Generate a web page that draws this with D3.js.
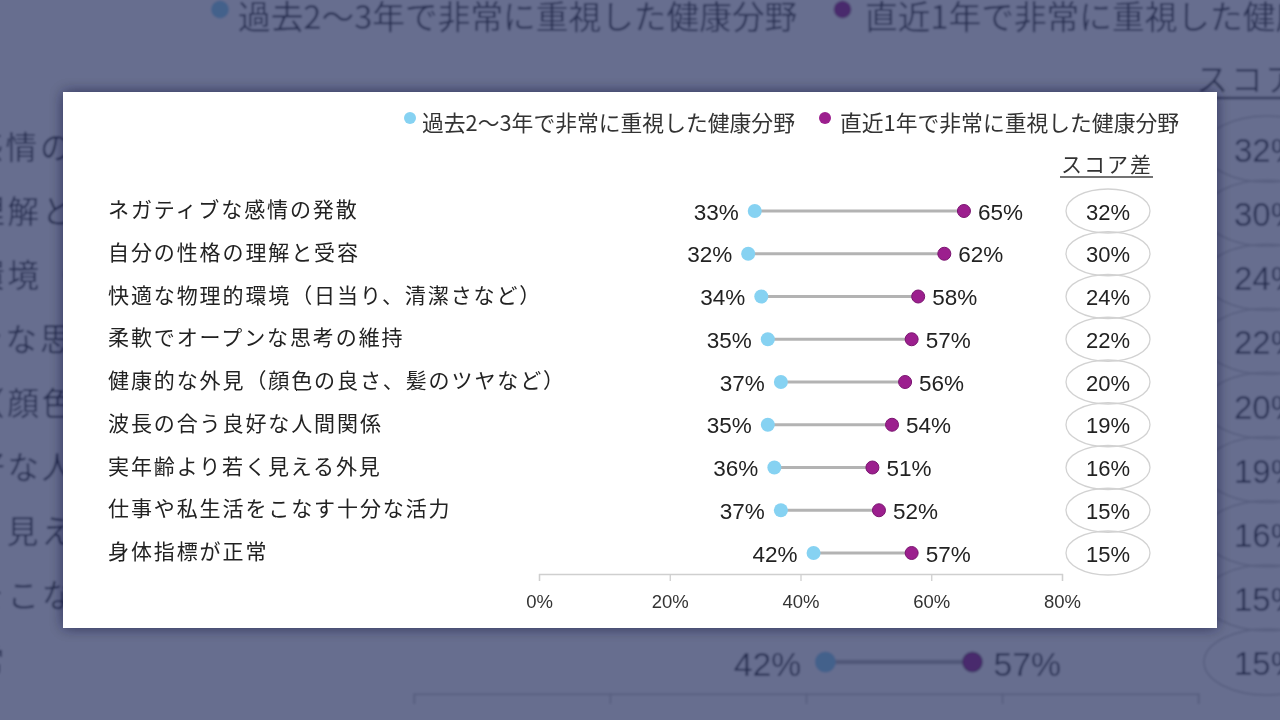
<!DOCTYPE html>
<html>
<head>
<meta charset="utf-8">
<script src="https://cdn.jsdelivr.net/npm/d3@7"></script>
<style>
  body { margin: 0; overflow: hidden; background: #fff; }
</style>
</head>
<body>
<div id="chart"></div>
<script>
var categories = [
    "ネガティブな感情の発散",
    "自分の性格の理解と受容",
    "快適な物理的環境（日当り、清潔さなど）",
    "柔軟でオープンな思考の維持",
    "健康的な外見（顔色の良さ、髪のツヤなど）",
    "波長の合う良好な人間関係",
    "実年齢より若く見える外見",
    "仕事や私生活をこなす十分な活力",
    "身体指標が正常"
]
var pastValues = [33, 32, 34, 35, 37, 35, 36, 37, 42]
var recentValues = [65, 62, 58, 57, 56, 54, 51, 52, 57]
var scoreDiff = [32, 30, 24, 22, 20, 19, 16, 15, 15]
var axisTicks = [0, 20, 40, 60, 80]
var legendLabels = ["過去2〜3年で非常に重視した健康分野", "直近1年で非常に重視した健康分野"]
var diffTitle = "スコア差"

var W = 1280, H = 720
var jpFont = "'Noto Sans CJK JP', 'Noto Sans', sans-serif"
var numFont = "'Liberation Sans', Arial, sans-serif"
var pastColor = "#86d2f2", recentColor = "#9c1f8e"

var svg = d3.select("#chart")
    .append("svg")
    .attr("width", W)
    .attr("height", H)

var defs = svg.append("defs")
defs.append("filter").attr("id", "soft")
    .append("feGaussianBlur").attr("stdDeviation", 1.0)
defs.append("filter").attr("id", "shadow")
    .attr("x", "-5%").attr("y", "-10%").attr("width", "110%").attr("height", "120%")
    .append("feDropShadow")
    .attr("dx", 0).attr("dy", 0).attr("stdDeviation", 7)
    .attr("flood-color", "#0a1030").attr("flood-opacity", 0.55)

var x_scale = d3.scaleLinear().domain([0, 80]).range([539, 1062])
var y_scale = d3.scalePoint().domain(categories).range([211, 553])

var rows = categories.map(function (c, i) {
    return { key: c, past: pastValues[i], recent: recentValues[i], diff: scoreDiff[i] }
})

function drawChart(g) {
    // legend
    var legendX = [[410, 422], [825, 840]]
    legendLabels.forEach(function (t, i) {
        g.append("circle")
            .attr("cx", legendX[i][0]).attr("cy", 118).attr("r", 6)
            .attr("fill", i == 0 ? pastColor : recentColor)
        g.append("text")
            .attr("x", legendX[i][1]).attr("y", 121)
            .attr("dominant-baseline", "central")
            .style("font-family", jpFont).style("font-size", "21.8px")
            .attr("fill", "#333")
            .text(t)
    })

    // score diff header
    g.append("text")
        .attr("x", 1107).attr("y", 163)
        .attr("text-anchor", "middle").attr("dominant-baseline", "central")
        .style("font-family", jpFont).style("font-size", "21px")
        .style("letter-spacing", "2px")
        .attr("fill", "#333")
        .text(diffTitle)
    g.append("line")
        .attr("x1", 1060).attr("x2", 1153).attr("y1", 177).attr("y2", 177)
        .attr("stroke", "#444").attr("stroke-width", 1.6)

    // axis
    var axis = g.append("g")
        .attr("transform", "translate(0,574)")
        .call(d3.axisBottom(x_scale)
            .tickValues(axisTicks)
            .tickFormat(function (d) { return d + "%" })
            .tickSize(7).tickSizeOuter(7).tickPadding(14))
    axis.select(".domain").attr("stroke", "#cfcfcf").attr("stroke-width", 1.3)
    axis.selectAll(".tick line").attr("stroke", "#cfcfcf").attr("stroke-width", 1.3)
    axis.selectAll(".tick text")
        .style("font-family", numFont).style("font-size", "18.5px")
        .attr("fill", "#333")

    var row = g.selectAll(".row")
        .data(rows)
        .enter().append("g")
        .attr("class", "row")
        .attr("transform", function (d) { return "translate(0," + y_scale(d.key) + ")" })

    row.append("text")
        .attr("x", 108).attr("y", -3)
        .attr("dominant-baseline", "central")
        .style("font-family", jpFont).style("font-size", "21px")
        .style("letter-spacing", "1.9px")
        .attr("fill", "#222")
        .text(function (d) { return d.key })

    row.append("line")
        .attr("x1", function (d) { return x_scale(d.past) })
        .attr("x2", function (d) { return x_scale(d.recent) })
        .attr("stroke", "#b3b3b3").attr("stroke-width", 3)

    row.append("circle")
        .attr("cx", function (d) { return x_scale(d.past) })
        .attr("r", 7).attr("fill", pastColor)
    row.append("circle")
        .attr("cx", function (d) { return x_scale(d.recent) })
        .attr("r", 6.5).attr("fill", recentColor)
        .attr("stroke", "#7a1470").attr("stroke-width", 1)

    row.append("text")
        .attr("x", function (d) { return x_scale(d.past) - 16 })
        .attr("y", 1)
        .attr("text-anchor", "end").attr("dominant-baseline", "central")
        .style("font-family", numFont).style("font-size", "22.5px")
        .attr("fill", "#222")
        .text(function (d) { return d.past + "%" })
    row.append("text")
        .attr("x", function (d) { return x_scale(d.recent) + 14 })
        .attr("y", 1)
        .attr("dominant-baseline", "central")
        .style("font-family", numFont).style("font-size", "22.5px")
        .attr("fill", "#222")
        .text(function (d) { return d.recent + "%" })

    row.append("ellipse")
        .attr("cx", 1108).attr("rx", 42).attr("ry", 22)
        .attr("fill", "none").attr("stroke", "#d2d2d2").attr("stroke-width", 1.3)
    row.append("text")
        .attr("x", 1108).attr("y", 1)
        .attr("text-anchor", "middle").attr("dominant-baseline", "central")
        .style("font-family", numFont).style("font-size", "22px")
        .attr("fill", "#222")
        .text(function (d) { return d.diff + "%" })
}

// blurred, enlarged copy behind the card
var bg = svg.append("g").attr("filter", "url(#soft)")
bg.append("rect").attr("width", W).attr("height", H).attr("fill", "#fff")
drawChart(bg.append("g").attr("transform", "translate(-395,-167.5) scale(1.5)"))
svg.append("rect")
    .attr("width", W).attr("height", H)
    .attr("fill", "rgb(38,48,96)").attr("opacity", 0.7)

// front card
svg.append("rect")
    .attr("x", 63).attr("y", 92).attr("width", 1154).attr("height", 536)
    .attr("fill", "#fff").attr("filter", "url(#shadow)")
drawChart(svg.append("g"))
</script>
</body>
</html>
